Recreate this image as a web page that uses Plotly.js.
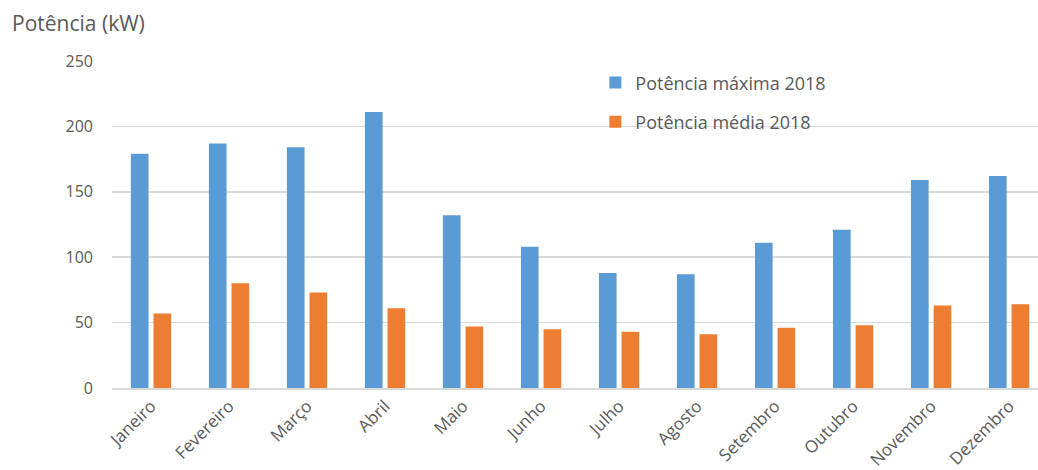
<!DOCTYPE html>
<html>
<head>
<meta charset="utf-8">
<script src="https://cdn.plot.ly/plotly-3.0.1.min.js"></script>
<style>html,body{margin:0;padding:0;background:#fff;}#chart{width:1038px;height:470px;}</style>
</head>
<body>
<div id="chart"></div>
<script>
const months = ["Janeiro","Fevereiro","Março","Abril","Maio","Junho","Julho","Agosto","Setembro","Outubro","Novembro","Dezembro"];
const potMax = [179, 187, 184, 211, 132, 108, 88, 87, 111, 121, 159, 162];
const potMedia = [57, 80, 73, 61, 47, 45, 43, 41, 46, 48, 63, 64];
const yTicks = [0, 50, 100, 150, 200, 250];

const font = "'Open Sans', 'Noto Sans', sans-serif";
const textColor = "#595959";

const traces = [
  {type: "bar", x: months, y: potMax, name: "Potência máxima 2018",
   marker: {color: "#5B9BD5"}, legendgroup: "a"},
  {type: "bar", x: months, y: potMedia, name: "Potência média 2018",
   marker: {color: "#ED7D31"}, legendgroup: "b"}
];

const layout = {
  width: 1038, height: 470,
  margin: {l: 112, r: 0, t: 61, b: 82},
  paper_bgcolor: "#fff", plot_bgcolor: "#fff",
  font: {family: font, color: textColor, size: 15},
  barmode: "group", bargap: 0.42, bargroupgap: 0.22,
  title: {text: "Potência (kW)", x: 0.0116, xref: "container", xanchor: "left",
          y: 0.949, yref: "container", yanchor: "middle",
          font: {family: font, size: 21, color: textColor}},
  xaxis: {type: "category", range: [-0.5, 11.37], tickangle: -45, showgrid: false,
          showline: true, linecolor: "#D9D9D9", linewidth: 1.5, ticks: "",
          tickfont: {family: font, size: 17, color: textColor}},
  yaxis: {range: [0, 250], tickvals: yTicks, showgrid: true, gridcolor: "#D9D9D9", gridwidth: 1.5,
          zeroline: false, ticks: "", ticklabelstandoff: 18,
          tickfont: {family: font, size: 16, color: textColor}},
  showlegend: true,
  legend: {x: 0.522, y: 0.99, xanchor: "left", yanchor: "top", bgcolor: "rgba(0,0,0,0)",
           tracegroupgap: 13, font: {family: font, size: 18, color: textColor}}
};

Plotly.newPlot("chart", traces, layout, {displayModeBar: false, staticPlot: true});
</script>
</body>
</html>
